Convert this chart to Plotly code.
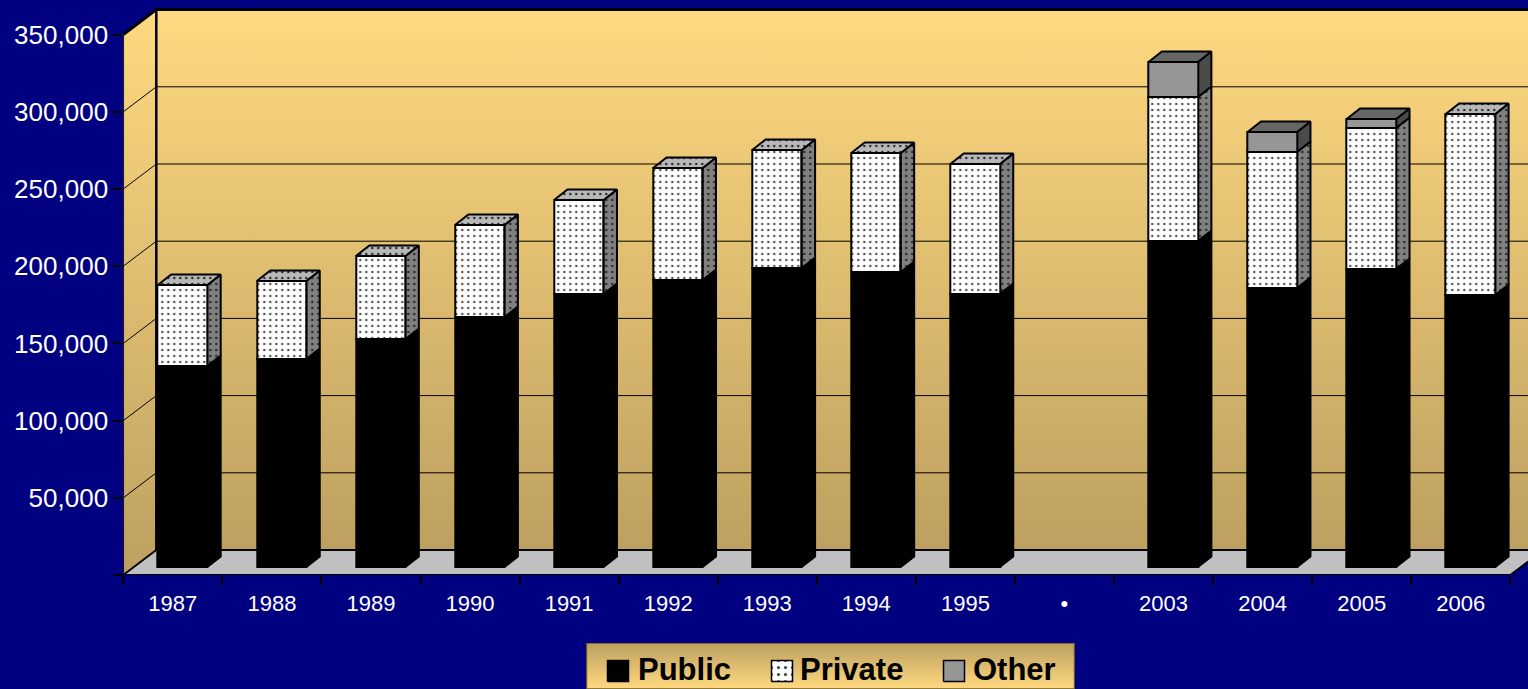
import plotly.graph_objects as go

# ---- data ----
CATEGORIES = ["1987", "1988", "1989", "1990", "1991", "1992", "1993", "1994", "1995", "•", "2003", "2004", "2005", "2006"]
PUBLIC = [130200, 134700, 147700, 161900, 176800, 185900, 193600, 191100, 176800, None, 211100, 180700, 193000, 176200]
PRIVATE = [52450, 50550, 53750, 59650, 60850, 72550, 76450, 77050, 84250, None, 93300, 88100, 91300, 117150]
OTHER = [0, 0, 0, 0, 0, 0, 0, 0, 0, None, 22650, 12950, 5850, 0]
Y_TICKS = [0, 50000, 100000, 150000, 200000, 250000, 300000, 350000]
Y_LABELS = ["", "50,000", "100,000", "150,000", "200,000", "250,000", "300,000", "350,000"]

# ---- geometry of the pseudo-3D frame (pixel scales of the page) ----
W, H = 1528, 689
PX_X = 99.07          # pixels per category
PX_Y = 77.2 / 50000   # pixels per value unit
L, T, BOTTOM = 123.3, 5, 575
x0 = -0.5
x1 = x0 + (W - L) / PX_X
y0 = 0
y1 = (BOTTOM - T) / PX_Y
WALL_DX = 33 / PX_X
WALL_DY = 25 / PX_Y
BAR_W = 49.5 / PX_X
BAR_SHIFT_X = 9.7 / PX_X
BAR_BASE = 8 / PX_Y
BAR_DX = 13.4 / PX_X
BAR_DY = 10.5 / PX_Y
XL, XR = -0.5, len(CATEGORIES) - 0.5
YTOP = Y_TICKS[-1]

WALL_SCALE = [[0, "#BDA060"], [1, "#FFD980"]]
fig = go.Figure()


def poly(xs, ys, z, color="black", width=1.0, **kw):
    fig.add_trace(go.Scatter(x=xs, y=ys, mode="lines", fill="toself", line=dict(color=color, width=width),
                             showlegend=False, hoverinfo="skip", zorder=z, **kw))


def line(xs, ys, width, z=1, color="black"):
    fig.add_trace(go.Scatter(x=xs, y=ys, mode="lines", line=dict(color=color, width=width), cliponaxis=False,
                             showlegend=False, hoverinfo="skip", zorder=z))


# walls and floor
poly([XL + WALL_DX, XR + WALL_DX, XR + WALL_DX, XL + WALL_DX, XL + WALL_DX],
     [WALL_DY, WALL_DY, YTOP + WALL_DY, YTOP + WALL_DY, WALL_DY], 0, color="rgba(0,0,0,0)", width=0,
     fillgradient=dict(type="vertical", colorscale=WALL_SCALE, start=WALL_DY, stop=YTOP + WALL_DY))
poly([XL, XL + WALL_DX, XL + WALL_DX, XL, XL],
     [0, WALL_DY, YTOP + WALL_DY, YTOP, 0], 0, color="rgba(0,0,0,0)", width=0,
     fillgradient=dict(type="vertical", colorscale=WALL_SCALE, start=0, stop=YTOP + WALL_DY))
poly([XL, XR, XR + WALL_DX, XL + WALL_DX, XL], [0, 0, WALL_DY, WALL_DY, 0], 0,
     color="rgba(0,0,0,0)", width=0, fillcolor="#C0C0C0")

# grid lines on side wall and back wall
gx, gy = [], []
for v in Y_TICKS[1:-1]:
    gx += [XL, XL + WALL_DX, x1, None]
    gy += [v, v + WALL_DY, v + WALL_DY, None]
line(gx, gy, 1)

# frame
line([XL, XL], [0, YTOP], 1.5)
line([XL + WALL_DX, XL + WALL_DX], [WALL_DY, YTOP + WALL_DY], 2.5)
line([XL, XL + WALL_DX, x1], [YTOP, YTOP + WALL_DY, YTOP + WALL_DY], 3)
line([XL, XL + WALL_DX, x1], [0, WALL_DY, WALL_DY], 1.8)
line([XL, XR], [0, 0], 1.8)
line([XR, x1], [0, (x1 - XR) / WALL_DX * WALL_DY], 1.8)

positions = list(range(len(CATEGORIES)))
cum = [BAR_BASE] * len(CATEGORIES)
PATTERN = dict(shape=".", size=6, solidity=0.14)
series = [
    ("Public", PUBLIC, "#000000", "#000000", "#000000", None),
    ("Private", PRIVATE, "#FFFFFF", "#808080", "#B8B8B8", "#2A2A2A"),
    ("Other", OTHER, "#969696", "#4B4B4B", "#666666", None),
]
stack_top = [sum((s[1][i] or 0) for s in series) for i in positions]

for name, vals, front, side, top, dots in series:
    bars_x, bars_y, bars_b = [], [], []
    sx, sy, tx, ty = [], [], [], []
    for i in positions:
        v = vals[i]
        if not v:
            continue
        b = cum[i]
        t = b + v
        c = i + BAR_SHIFT_X
        xl, xr = c - BAR_W / 2, c + BAR_W / 2
        bars_x.append(c)
        bars_y.append(v)
        bars_b.append(b)
        sx += [xr, xr + BAR_DX, xr + BAR_DX, xr, xr, None]
        sy += [b, b + BAR_DY, t + BAR_DY, t, b, None]
        if abs(t - BAR_BASE - stack_top[i]) < 1:
            tx += [xl, xl + BAR_DX, xr + BAR_DX, xr, xl, None]
            ty += [t, t + BAR_DY, t + BAR_DY, t, t, None]
        cum[i] = t
    extra_s = dict(fillcolor=side)
    extra_t = dict(fillcolor=top)
    if dots:
        extra_s = dict(fillpattern=dict(PATTERN, bgcolor=side, fgcolor=dots, fillmode="replace"))
        extra_t = dict(fillpattern=dict(PATTERN, bgcolor=top, fgcolor=dots, fillmode="replace"))
    poly(sx, sy, 3, width=2, **extra_s)
    if tx:
        poly(tx, ty, 3, width=2, **extra_t)
    marker = dict(color=front, line=dict(color="black", width=2))
    if dots:
        marker["pattern"] = dict(PATTERN, bgcolor=front, fgcolor="#555555", fillmode="replace")
    fig.add_trace(go.Bar(x=bars_x, y=bars_y, base=bars_b, width=BAR_W, name=name, marker=marker,
                         showlegend=False, zorder=4))

# legend box, on its own small pixel-scaled axes
LEG = dict(x=586, y=643, w=489, h=46)
lx = "x2"
ly = "y2"


def lpoly(xs, ys, **kw):
    fig.add_trace(go.Scatter(x=xs, y=ys, xaxis=lx, yaxis=ly, mode="lines", fill="toself", showlegend=False,
                             hoverinfo="skip", **kw))


lpoly([0, 488, 488, 0, 0], [0, 0, 46, 46, 0], line=dict(color="#6B5A20", width=1.5),
      fillgradient=dict(type="vertical", colorscale=[[0, "#FFD980"], [1, "#BDA060"]], start=0, stop=46))
LEGEND_NAMES = ["Public", "Private", "Other"]
swatch_x = [21, 185, 357]
text_x = [49, 211, 384]
swatch_fill = [dict(fillcolor="#000000"),
               dict(fillpattern=dict(shape=".", size=7, solidity=0.16, bgcolor="#FFFFFF", fgcolor="#444444", fillmode="replace")),
               dict(fillcolor="#969696")]
annotations = []
for nm, sxx, txx, ff in zip(LEGEND_NAMES, swatch_x, text_x, swatch_fill):
    lpoly([sxx, sxx + 21, sxx + 21, sxx, sxx], [7.5, 7.5, 28.5, 28.5, 7.5], line=dict(color="black", width=1.5), **ff)
    annotations.append(dict(x=txx, y=19.5, xref=lx, yref=ly, text="<b>%s</b>" % nm, showarrow=False, xanchor="left",
                            yanchor="middle", font=dict(family="Liberation Sans", size=31, color="black")))

fig.update_layout(
    width=W, height=H, autosize=False,
    margin=dict(l=0, r=0, t=0, b=0, pad=0),
    paper_bgcolor="#000080", plot_bgcolor="#000080",
    barmode="overlay", bargap=0, showlegend=False,
    font=dict(family="Liberation Sans", color="white"),
    annotations=annotations,
    xaxis=dict(range=[x0, x1], domain=[L / W, 1], tickmode="array", tickvals=positions, ticktext=CATEGORIES,
               tickfont=dict(size=22, color="white"), showgrid=False, zeroline=False, showline=False,
               ticks="outside", ticklen=9, tickcolor="rgba(0,0,0,0)", tickangle=0,
               minor=dict(tickmode="array", tickvals=[p - 0.5 for p in positions] + [positions[-1] + 0.5],
                          ticks="outside", ticklen=9, tickwidth=1.5, tickcolor="black", showgrid=False)),
    yaxis=dict(range=[y0, y1], domain=[(H - BOTTOM) / H, 1 - T / H], tickmode="array", tickvals=Y_TICKS, ticktext=Y_LABELS,
               tickfont=dict(size=26, color="white"), showgrid=False, zeroline=False, showline=False,
               ticks="outside", ticklen=9, tickwidth=1.5, tickcolor="black"),
    xaxis2=dict(domain=[LEG["x"] / W, (LEG["x"] + LEG["w"]) / W], range=[-0.5, LEG["w"] - 0.5], anchor="y2",
                visible=False, fixedrange=True),
    yaxis2=dict(domain=[0, LEG["h"] / H], range=[0, LEG["h"]], anchor="x2", visible=False, fixedrange=True),
)

fig.write_html("out.html", config=dict(displayModeBar=False),
               post_script="document.body.style.margin='0';document.body.style.overflow='hidden';")
